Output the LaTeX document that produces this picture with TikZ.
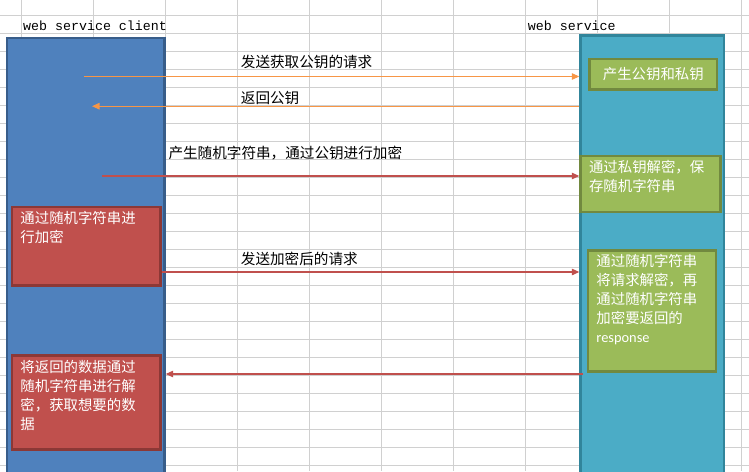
\documentclass[tikz,border=0pt]{standalone}
\usepackage{fontspec}
\setmonofont{Liberation Mono}
\newfontfamily\cjk{Noto Sans CJK SC}
\newfontfamily\respfont{Carlito}
\usetikzlibrary{arrows.meta}
\definecolor{gridgray}{RGB}{208,208,208}
\definecolor{clientfill}{RGB}{79,129,189}
\definecolor{clientdraw}{RGB}{56,93,138}
\definecolor{serverfill}{RGB}{75,172,198}
\definecolor{serverdraw}{RGB}{49,133,155}
\definecolor{greenfill}{RGB}{155,187,89}
\definecolor{greendraw}{RGB}{113,137,63}
\definecolor{redfill}{RGB}{192,80,77}
\definecolor{reddraw}{RGB}{140,56,54}
\definecolor{keyorange}{RGB}{247,150,70}
\definecolor{datared}{RGB}{192,80,77}
\newcommand{\boxtext}[3]{\parbox[c][#2][t]{#1}{\raggedright #3}}
\begin{document}
\begin{tikzpicture}[x=1pt, y=-1pt,
		>={Triangle[length=7.5pt,width=6.5pt]},
		gridline/.style={draw=gridgray, line width=1pt},
		lifeline/.style={rectangle, line width=2.5pt, anchor=north west, inner sep=0pt},
		clientbox/.style={lifeline, fill=clientfill, draw=clientdraw},
		serverbox/.style={lifeline, fill=serverfill, draw=serverdraw},
		card/.style={rectangle, line width=2.5pt, anchor=north west, inner xsep=8.5pt, inner ysep=4.5pt,
			text=white, font=\cjk\fontsize{14.4}{19}\selectfont},
		greencard/.style={card, fill=greenfill, draw=greendraw},
		redcard/.style={card, fill=redfill, draw=reddraw},
		msg/.style={inner sep=0pt, anchor=west, font=\cjk\fontsize{14.6}{19}\selectfont},
		title/.style={inner sep=0pt, anchor=west, font=\ttfamily\fontsize{13.3}{16}\selectfont},
		keyarrow/.style={->, draw=keyorange, line width=1.1pt},
		dataarrow/.style={->, draw=datared, line width=1.1pt}]
			\clip (0,0) rectangle (749,471);
			\fill[white] (0,0) rectangle (749,471);
			\foreach \i in {0,...,10}
				\draw[gridline] (21.7+72*\i,0) -- (21.7+72*\i,471);
			\foreach \j in {0,...,25}
				\draw[gridline] (0,15+18*\j) -- (749,15+18*\j);
			\node[title] (clienttitle) at (23,26) {web service client};
			\node[title] (servertitle) at (527.7,26) {web service};
			\node[clientbox, minimum width=157.5pt, minimum height=460pt] (client) at (5.7,36.7) {};
			\node[serverbox, minimum width=143.2pt, minimum height=460pt] (server) at (579.3,34.3) {};
			\node[greencard, minimum width=127.5pt, minimum height=30.5pt, inner sep=0pt] (keygen) at (588.3,57.7) {产生公钥和私钥};
			\node[greencard] (decrypt) at (579.3,154.7) {\boxtext{122.9pt}{47.1pt}{通过私钥解密，保\\存随机字符串}};
			\node[greencard] (respond) at (586.7,249) {\boxtext{111.1pt}{112.2pt}{通过随机字符串\\将请求解密，再\\通过随机字符串\\加密要返回的\\{\respfont response}}};
			\node[redcard] (encrypt) at (10.7,205.7) {\boxtext{131.5pt}{69.5pt}{通过随机字符串进\\行加密}};
			\node[redcard] (result) at (10.7,354.3) {\boxtext{131.5pt}{84.9pt}{将返回的数据通过\\随机字符串进行解\\密，获取想要的数\\据}};
			\coordinate (askkey) at (84,76.5);
			\draw[keyarrow] (askkey) -- (askkey -| server.west);
			\node[msg] (askkeylbl) at (240.7,62) {发送获取公钥的请求};
			\coordinate (sendkey) at (92,106.2);
			\draw[keyarrow] (sendkey -| server.west) -- (sendkey);
			\node[msg] (sendkeylbl) at (240.7,98) {返回公钥};
			\coordinate (sendrand) at (102,176);
			\draw[dataarrow] (sendrand) -- (sendrand -| server.west);
			\node[msg] (sendrandlbl) at (168.3,153) {产生随机字符串，通过公钥进行加密};
			\coordinate (sendreq) at (162,272);
			\draw[dataarrow] (sendreq) -- (sendreq -| server.west);
			\node[msg] (sendreqlbl) at (240.7,259.3) {发送加密后的请求};
			\coordinate (reply) at (583,374);
			\draw[dataarrow] (reply) -- (reply -| client.east);
		\end{tikzpicture}
\end{document}
